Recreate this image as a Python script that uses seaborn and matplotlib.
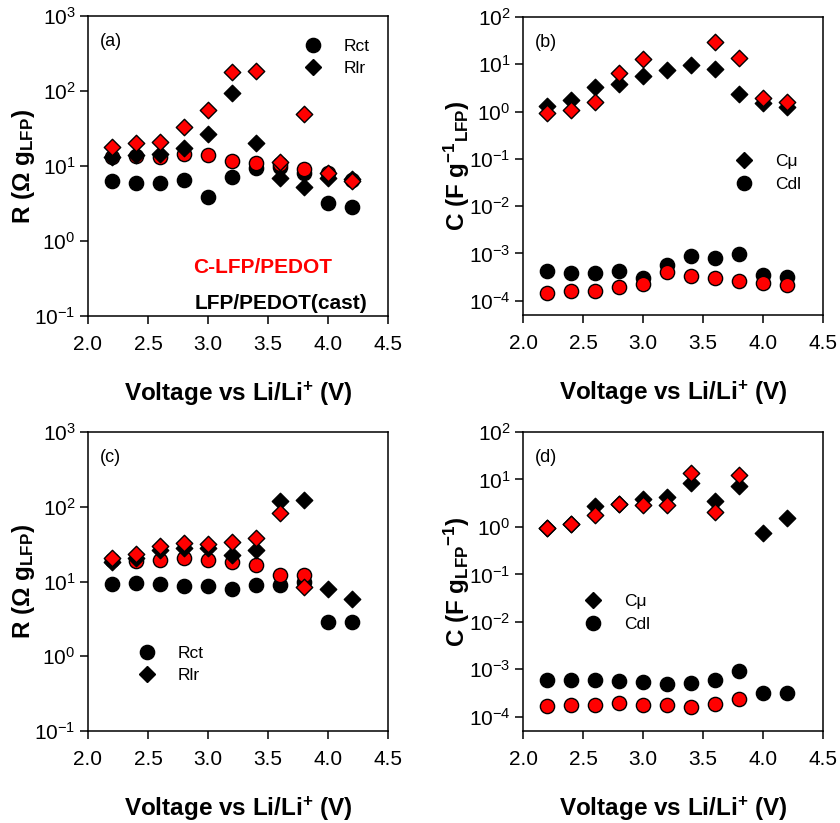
import numpy as np
import pandas as pd
import matplotlib
matplotlib.use("Agg")
import matplotlib.pyplot as plt
from matplotlib.lines import Line2D
import seaborn as sns

sns.set_style("ticks")
plt.rcParams['font.family'] = ['Liberation Sans', 'DejaVu Sans']
plt.rcParams['mathtext.default'] = 'regular'
plt.rcParams['text.color'] = 'black'
plt.rcParams['axes.labelcolor'] = 'black'
plt.rcParams['xtick.color'] = 'black'
plt.rcParams['ytick.color'] = 'black'
plt.rcParams['axes.edgecolor'] = 'black'

voltage = [2.2, 2.4, 2.6, 2.8, 3.0, 3.2, 3.4, 3.6, 3.8, 4.0, 4.2]
nan = np.nan

# Panel (a): resistances, LFP/PEDOT(cast) (black) and C-LFP/PEDOT (red)
a_rct_cast = [6.4, 6.0, 6.0, 6.6, 3.9, 7.1, 9.5, 9.6, 8.0, 3.2, 2.8]
a_rlr_cast = [13.3, 14.0, 14.5, 17.2, 26.4, 93, 20.5, 7.0, 5.3, 6.9, 6.8]
a_rct_c = [13.0, 13.5, 13.1, 14.5, 14.0, 11.8, 10.9, 10.5, 9.0, 8.0, 6.5]
a_rlr_c = [18.1, 20.0, 21.0, 33.4, 55.8, 177, 187, 11.2, 49.4, 8.0, 6.3]

# Panel (b): capacitances
b_cmu_cast = [1.31, 1.76, 3.36, 3.74, 5.6, 7.4, 9.5, 8.0, 2.3, 1.54, 1.28]
b_cmu_c = [0.95, 1.1, 1.62, 6.6, 13.1, nan, nan, 29.4, 13.3, 1.97, 1.6]
b_cdl_cast = [4.2e-4, 3.85e-4, 3.85e-4, 4.2e-4, 3.1e-4, 5.6e-4, 8.8e-4, 7.9e-4, 9.7e-4, 3.5e-4, 3.2e-4]
b_cdl_c = [1.47e-4, 1.57e-4, 1.63e-4, 1.91e-4, 2.26e-4, 4.0e-4, 3.27e-4, 3.0e-4, 2.68e-4, 2.4e-4, 2.2e-4]

# Panel (c): resistances
c_rct_cast = [9.3, 9.5, 9.2, 8.75, 8.75, 8.0, 9.0, 9.0, 10.0, 2.9, 2.84]
c_rlr_cast = [18.5, 20.5, 26.4, 27.8, 27.8, 22.7, 26.4, 120, 125, 8.0, 5.8]
c_rct_c = [19.5, 19.0, 19.5, 20.5, 19.5, 18.5, 16.7, 12.3, 12.3, nan, nan]
c_rlr_c = [20.9, 23.1, 30.2, 32.4, 31.8, 34.2, 37.8, 83.2, 8.4, nan, nan]

# Panel (d): capacitances
d_cmu_cast = [0.97, 1.13, 2.7, 3.0, 3.96, 4.3, 8.25, 3.6, 7.4, 0.76, 1.52]
d_cmu_c = [0.97, 1.13, 1.76, 3.0, 2.9, 2.9, 13.8, 2.1, 12.4, nan, nan]
d_cdl_cast = [5.8e-4, 5.8e-4, 5.8e-4, 5.6e-4, 5.4e-4, 4.9e-4, 5.25e-4, 6.0e-4, 9.2e-4, 3.1e-4, 3.1e-4]
d_cdl_c = [1.68e-4, 1.8e-4, 1.8e-4, 1.9e-4, 1.8e-4, 1.74e-4, 1.57e-4, 1.87e-4, 2.4e-4, nan, nan]

x_ticks = [2.0, 2.5, 3.0, 3.5, 4.0, 4.5]
x_label = 'Voltage vs Li/Li$^{+}$ (V)'
r_label = 'R (Ω g$_{LFP}$)'
cb_label = 'C (F g$^{-1}{}_{LFP}$)'
cd_label = 'C (F g$_{LFP}{}^{-1}$)'

RED = '#ff0000'
S_CIRC = 105
S_DIAM = 70

fig = plt.figure(figsize=(8.4, 8.23), dpi=100)
W = 300 / 840
pos = {
    'a': [88 / 840, 1 - 316 / 823, W, 300 / 823],
    'b': [523 / 840, 1 - 315 / 823, W, 298 / 823],
    'c': [88 / 840, 1 - 731 / 823, W, 299 / 823],
    'd': [523 / 840, 1 - 731 / 823, W, 299 / 823],
}
axes = {k: fig.add_axes(v) for k, v in pos.items()}


def scat(ax, y, marker, color, s):
    df = pd.DataFrame({'V': voltage, 'y': y}).dropna()
    sns.scatterplot(data=df, x='V', y='y', ax=ax, marker=marker, s=s,
                    color=color, edgecolor='black', linewidth=1.0, zorder=3,
                    legend=False)


def style(ax, ylim, ylabel, tag):
    ax.set_yscale('log')
    ax.set_xlim(2.0, 4.5)
    ax.set_ylim(*ylim)
    ax.set_xticks(x_ticks)
    ax.set_xticklabels([f'{t:.1f}' for t in x_ticks])
    ax.minorticks_off()
    ax.yaxis.set_minor_locator(matplotlib.ticker.NullLocator())
    for sp in ax.spines.values():
        sp.set_visible(True)
        sp.set_linewidth(1.1)
        sp.set_color('black')
    ax.tick_params(axis='both', direction='out', length=6, width=1.1,
                   labelsize=15, colors='black')
    ax.tick_params(axis='x', pad=8)
    ax.tick_params(axis='y', pad=3)
    ax.set_xlabel(x_label, fontsize=17.5, fontweight='bold', labelpad=18,
                  color='black')
    ax.set_ylabel(ylabel, fontsize=17.5, fontweight='bold', labelpad=-2,
                  color='black')
    ax.text(0.04, 0.915, tag, transform=ax.transAxes, fontsize=13,
            ha='left', va='center', color='black')
    ax.grid(False)


def legend(ax, items, anchor):
    handles = [Line2D([], [], linestyle='none', marker=m, markersize=ms,
                      markerfacecolor='black', markeredgecolor='black',
                      label=lab) for m, ms, lab in items]
    ax.legend(handles=handles, loc='upper left', bbox_to_anchor=anchor,
              frameon=False, fontsize=12.5, handlelength=1.0,
              handletextpad=1.3, labelspacing=0.42, borderpad=0,
              borderaxespad=0, labelcolor='black')


circ_ms = np.sqrt(S_CIRC)
diam_ms = np.sqrt(S_DIAM)

# (a)
ax = axes['a']
scat(ax, a_rct_cast, 'o', 'black', S_CIRC)
scat(ax, a_rct_c, 'o', RED, S_CIRC)
scat(ax, a_rlr_cast, 'D', 'black', S_DIAM)
scat(ax, a_rlr_c, 'D', RED, S_DIAM)
style(ax, (0.1, 1000), r_label, '(a)')
legend(ax, [('o', circ_ms, 'Rct'), ('D', diam_ms, 'Rlr')], (0.72, 0.925))
ax.text(0.583, 0.163, 'C-LFP/PEDOT', transform=ax.transAxes, color=RED,
        fontsize=15, fontweight='bold', ha='center', va='center')
ax.text(0.643, 0.043, 'LFP/PEDOT(cast)', transform=ax.transAxes,
        color='black', fontsize=15, fontweight='bold', ha='center',
        va='center')

# (b)
ax = axes['b']
scat(ax, b_cdl_cast, 'o', 'black', S_CIRC)
scat(ax, b_cdl_c, 'o', RED, S_CIRC)
scat(ax, b_cmu_cast, 'D', 'black', S_DIAM)
scat(ax, b_cmu_c, 'D', RED, S_DIAM)
style(ax, (5e-5, 100), cb_label, '(b)')
legend(ax, [('D', diam_ms, 'Cμ'), ('o', circ_ms, 'Cdl')], (0.707, 0.54))

# (c)
ax = axes['c']
scat(ax, c_rct_cast, 'o', 'black', S_CIRC)
scat(ax, c_rct_c, 'o', RED, S_CIRC)
scat(ax, c_rlr_cast, 'D', 'black', S_DIAM)
scat(ax, c_rlr_c, 'D', RED, S_DIAM)
style(ax, (0.1, 1000), r_label, '(c)')
legend(ax, [('o', circ_ms, 'Rct'), ('D', diam_ms, 'Rlr')], (0.167, 0.285))

# (d)
ax = axes['d']
scat(ax, d_cdl_cast, 'o', 'black', S_CIRC)
scat(ax, d_cdl_c, 'o', RED, S_CIRC)
scat(ax, d_cmu_cast, 'D', 'black', S_DIAM)
scat(ax, d_cmu_c, 'D', RED, S_DIAM)
style(ax, (5e-5, 100), cd_label, '(d)')
legend(ax, [('D', diam_ms, 'Cμ'), ('o', circ_ms, 'Cdl')], (0.203, 0.458))

fig.savefig('out.png', dpi=100)
